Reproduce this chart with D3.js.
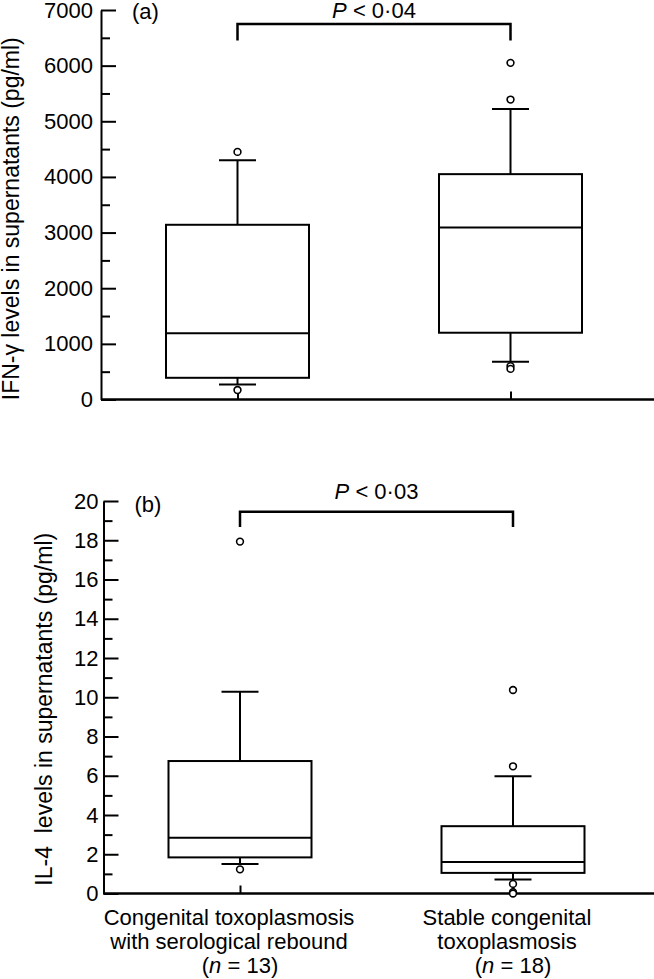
<!DOCTYPE html>
<html lang="en">
<head>
    <meta charset="UTF-8">
    <title>IFN-γ and IL-4 box plots</title>
    <script src="https://d3js.org/d3.v7.min.js"></script>
    <style>
        body {
            margin: 0;
            background-color: #ffffff;
        }
        svg text {
            font-family: 'Liberation Sans', Arial, sans-serif;
            fill: #000;
        }
        .tick line, .domain {
            stroke: #000;
            stroke-width: 2px;
        }
        .box, .whisker {
            fill: none;
            stroke: #000;
            stroke-width: 2px;
        }
        .outlier {
            fill: #fff;
            stroke: #000;
            stroke-width: 1.6px;
        }
    </style>
</head>
<body>
<div id="chart"></div>
<script>
    // Groups and their x-axis labels
    const groups = ["rebound", "stable"];
    const groupLabels = [
        ["Congenital toxoplasmosis", "with serological rebound", "13"],
        ["Stable congenital", "toxoplasmosis", "18"]
    ];

    // (a) IFN-gamma, pg/ml
    const ifnLow = [270, 680];
    const ifnQ1 = [390, 1200];
    const ifnMedian = [1190, 3090];
    const ifnQ3 = [3140, 4050];
    const ifnHigh = [4300, 5220];
    const ifnOutliers = [[4450, 170], [6050, 5390, 600, 550]];
    const ifnTicks = [0, 1000, 2000, 3000, 4000, 5000, 6000, 7000];
    const ifnMinorTicks = [500, 1500, 2500, 3500, 4500, 5500, 6500];

    // (b) IL-4, pg/ml
    const il4Low = [1.5, 0.71];
    const il4Q1 = [1.84, 1.05];
    const il4Median = [2.84, 1.6];
    const il4Q3 = [6.75, 3.43];
    const il4High = [10.28, 5.97];
    const il4Outliers = [[17.93, 1.23], [10.37, 6.48, 0.49, 0.07, 0]];
    const il4Ticks = [0, 2, 4, 6, 8, 10, 12, 14, 16, 18, 20];
    const il4MinorTicks = [1, 3, 5, 7, 9, 11, 13, 15, 17, 19];

    const width = 654, height = 979;

    const svg = d3.select("#chart")
        .append("svg")
        .attr("width", width)
        .attr("height", height);

    function drawPanel(p) {
        const g = svg.append("g");

        const x = d3.scalePoint().domain(groups).range([p.left, p.left + 546]).padding(0.5);
        const y = d3.scaleLinear().domain(p.domain).range([p.bottom, p.top]);
        const boxW = 143, capW = 37;

        // minor ticks
        g.append("g")
            .attr("transform", `translate(${p.left},0)`)
            .call(d3.axisLeft(y).tickValues(p.minor).tickSize(-9).tickFormat(""))
            .call(s => s.select(".domain").remove());

        // y axis
        g.append("g")
            .attr("transform", `translate(${p.left},0)`)
            .call(d3.axisLeft(y).tickValues(p.ticks).tickFormat(d3.format("d"))
                .tickSize(-15).tickPadding(p.pad).tickSizeOuter(0))
            .call(s => s.selectAll("text").style("font-size", "22px"));

        // x axis: inner ticks at categories, baseline to the page edge
        g.append("g")
            .attr("transform", `translate(0,${p.bottom})`)
            .call(d3.axisBottom(x).tickSize(-8).tickFormat(""))
            .call(s => s.select(".domain").remove());
        g.append("line")
            .attr("x1", p.left).attr("x2", width)
            .attr("y1", p.bottom).attr("y2", p.bottom)
            .attr("stroke", "#000").attr("stroke-width", 2.5);

        groups.forEach((grp, i) => {
            const cx = x(grp);
            // whiskers
            g.append("line").attr("class", "whisker")
                .attr("x1", cx).attr("x2", cx).attr("y1", y(p.q3[i])).attr("y2", y(p.high[i]));
            g.append("line").attr("class", "whisker")
                .attr("x1", cx).attr("x2", cx).attr("y1", y(p.q1[i])).attr("y2", y(p.low[i]));
            g.append("line").attr("class", "whisker")
                .attr("x1", cx - capW / 2).attr("x2", cx + capW / 2).attr("y1", y(p.high[i])).attr("y2", y(p.high[i]));
            g.append("line").attr("class", "whisker")
                .attr("x1", cx - capW / 2).attr("x2", cx + capW / 2).attr("y1", y(p.low[i])).attr("y2", y(p.low[i]));
            // box
            g.append("rect").attr("class", "box")
                .attr("x", cx - boxW / 2).attr("width", boxW)
                .attr("y", y(p.q3[i])).attr("height", y(p.q1[i]) - y(p.q3[i]));
            g.append("line").attr("class", "whisker")
                .attr("x1", cx - boxW / 2).attr("x2", cx + boxW / 2)
                .attr("y1", y(p.median[i])).attr("y2", y(p.median[i]));
            // outliers
            g.selectAll(null).data(p.outliers[i]).join("circle")
                .attr("class", "outlier")
                .attr("cx", cx).attr("cy", d => y(d)).attr("r", 3.4);
        });

        // significance bracket
        const bx1 = x(groups[0]), bx2 = x(groups[1]);
        g.append("path")
            .attr("fill", "none").attr("stroke", "#000").attr("stroke-width", 2.5)
            .attr("d", `M${bx1},${y(p.bracket[1])}V${y(p.bracket[0])}H${bx2}V${y(p.bracket[1])}`);
        const pt = g.append("text")
            .attr("x", (bx1 + bx2) / 2)
            .attr("y", p.pY)
            .attr("text-anchor", "middle")
            .style("font-size", "22px");
        pt.append("tspan").style("font-style", "italic").text("P");
        pt.append("tspan").text(" < " + p.pText);

        // panel letter
        g.append("text")
            .attr("x", p.left + 31).attr("y", p.letterY)
            .style("font-size", "22px")
            .text(p.letter);

        // y axis title
        g.append("text")
            .attr("transform", `translate(${p.titleX},${(p.top + p.bottom) / 2 + p.titleDy}) rotate(-90)`)
            .attr("text-anchor", "middle")
            .style("font-size", "23px")
            .style("white-space", "pre")
            .text(p.title);

        return x;
    }

    drawPanel({
        left: 101, top: 10, bottom: 399.5, domain: [0, 7000],
        ticks: ifnTicks, minor: ifnMinorTicks, pad: 8,
        low: ifnLow, q1: ifnQ1, median: ifnMedian, q3: ifnQ3, high: ifnHigh, outliers: ifnOutliers,
        bracket: [6750, 6450], pText: "0·04", pY: 18,
        letter: "(a)", letterY: 19,
        title: "IFN-γ levels in supernatants (pg/ml)", titleX: 19, titleDy: 14
    });

    const xb = drawPanel({
        left: 103.5, top: 501, bottom: 893.5, domain: [0, 20],
        ticks: il4Ticks, minor: il4MinorTicks, pad: 5,
        low: il4Low, q1: il4Q1, median: il4Median, q3: il4Q3, high: il4High, outliers: il4Outliers,
        bracket: [19.45, 18.67], pText: "0·03", pY: 499,
        letter: "(b)", letterY: 512,
        title: "IL-4  levels in supernatants (pg/ml)", titleX: 52, titleDy: 12
    });

    // category labels under panel (b)
    const lineDx = [[-11, -11, 0], [-6, -6, 0]];
    groups.forEach((grp, i) => {
        groupLabels[i].forEach((line, j) => {
            const t = svg.append("text")
                .attr("x", xb(grp) + lineDx[i][j])
                .attr("y", 925 + j * 24)
                .attr("text-anchor", "middle")
                .style("font-size", "22px");
            if (j === 2) {
                t.append("tspan").text("(");
                t.append("tspan").style("font-style", "italic").text("n");
                t.append("tspan").text(" = " + line + ")");
            } else {
                t.text(line);
            }
        });
    });
</script>
</body>
</html>
